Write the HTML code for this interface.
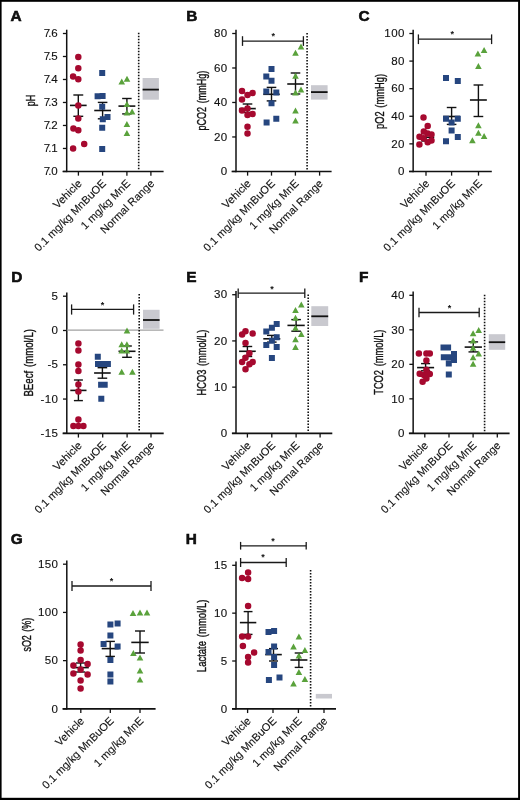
<!DOCTYPE html>
<html><head><meta charset="utf-8"><style>
html,body{margin:0;padding:0;background:#fff;}
body{width:520px;height:800px;overflow:hidden;position:relative;}
svg{position:absolute;left:0;top:0;will-change:transform;}
text{font-family:"Liberation Sans", sans-serif;fill:#111;}
</style></head><body>
<svg width="520" height="800" viewBox="0 0 520 800">
<rect x="0" y="0" width="520" height="800" fill="#fff"/>
<text x="10.40" y="20.65" font-size="15.4" font-weight="bold" stroke="#000" stroke-width="0.55" fill="#000">A</text>
<line x1="66.70" y1="29.70" x2="66.70" y2="172.15" stroke="#111" stroke-width="1.5" />
<line x1="62.90" y1="171.45" x2="66.70" y2="171.45" stroke="#111" stroke-width="1.3" />
<text transform="translate(57.70,175.15) scale(1.1,1)" font-size="10.5" text-anchor="end" stroke="#111" stroke-width="0.12"><tspan>7</tspan><tspan dx="-1.7">.</tspan><tspan dx="-0.2">0</tspan></text>
<line x1="62.90" y1="148.46" x2="66.70" y2="148.46" stroke="#111" stroke-width="1.3" />
<text transform="translate(57.70,152.16) scale(1.1,1)" font-size="10.5" text-anchor="end" stroke="#111" stroke-width="0.12"><tspan>7</tspan><tspan dx="-1.7">.</tspan><tspan dx="-0.2">1</tspan></text>
<line x1="62.90" y1="125.47" x2="66.70" y2="125.47" stroke="#111" stroke-width="1.3" />
<text transform="translate(57.70,129.17) scale(1.1,1)" font-size="10.5" text-anchor="end" stroke="#111" stroke-width="0.12"><tspan>7</tspan><tspan dx="-1.7">.</tspan><tspan dx="-0.2">2</tspan></text>
<line x1="62.90" y1="102.47" x2="66.70" y2="102.47" stroke="#111" stroke-width="1.3" />
<text transform="translate(57.70,106.17) scale(1.1,1)" font-size="10.5" text-anchor="end" stroke="#111" stroke-width="0.12"><tspan>7</tspan><tspan dx="-1.7">.</tspan><tspan dx="-0.2">3</tspan></text>
<line x1="62.90" y1="79.48" x2="66.70" y2="79.48" stroke="#111" stroke-width="1.3" />
<text transform="translate(57.70,83.18) scale(1.1,1)" font-size="10.5" text-anchor="end" stroke="#111" stroke-width="0.12"><tspan>7</tspan><tspan dx="-1.7">.</tspan><tspan dx="-0.2">4</tspan></text>
<line x1="62.90" y1="56.49" x2="66.70" y2="56.49" stroke="#111" stroke-width="1.3" />
<text transform="translate(57.70,60.19) scale(1.1,1)" font-size="10.5" text-anchor="end" stroke="#111" stroke-width="0.12"><tspan>7</tspan><tspan dx="-1.7">.</tspan><tspan dx="-0.2">5</tspan></text>
<line x1="62.90" y1="33.50" x2="66.70" y2="33.50" stroke="#111" stroke-width="1.3" />
<text transform="translate(57.70,37.20) scale(1.1,1)" font-size="10.5" text-anchor="end" stroke="#111" stroke-width="0.12"><tspan>7</tspan><tspan dx="-1.7">.</tspan><tspan dx="-0.2">6</tspan></text>
<line x1="62.60" y1="171.45" x2="163.60" y2="171.45" stroke="#111" stroke-width="1.55" />
<line x1="78.40" y1="171.45" x2="78.40" y2="175.65" stroke="#111" stroke-width="1.3" />
<text transform="translate(82.50,184.15) rotate(-45)" font-size="11.0" text-anchor="end" stroke="#111" stroke-width="0.12">Vehicle</text>
<line x1="102.60" y1="171.45" x2="102.60" y2="175.65" stroke="#111" stroke-width="1.3" />
<text transform="translate(106.70,184.15) rotate(-45)" font-size="11.0" text-anchor="end" stroke="#111" stroke-width="0.12">0.1 mg/kg MnBuOE</text>
<line x1="126.90" y1="171.45" x2="126.90" y2="175.65" stroke="#111" stroke-width="1.3" />
<text transform="translate(131.00,184.15) rotate(-45)" font-size="11.0" text-anchor="end" stroke="#111" stroke-width="0.12">1 mg/kg MnE</text>
<line x1="150.90" y1="171.45" x2="150.90" y2="175.65" stroke="#111" stroke-width="1.3" />
<text transform="translate(155.00,184.15) rotate(-45)" font-size="11.0" text-anchor="end" stroke="#111" stroke-width="0.12">Normal Range</text>
<line x1="138.70" y1="32.70" x2="138.70" y2="170.00" stroke="#111" stroke-width="1.6" stroke-dasharray="1.5 1.5"/>
<rect x="142.60" y="78.00" width="16.30" height="21.70" fill="#c9c9cf"/>
<line x1="142.60" y1="89.60" x2="158.90" y2="89.60" stroke="#111" stroke-width="1.8" />
<text transform="translate(35.00,100.50) rotate(-90)" font-size="12.5" text-anchor="middle" textLength="11.5" lengthAdjust="spacingAndGlyphs" word-spacing="1.5" stroke="#111" stroke-width="0.38">pH</text>
<line x1="78.30" y1="95.00" x2="78.30" y2="116.30" stroke="#111" stroke-width="1.4"/>
<line x1="73.35" y1="95.00" x2="83.25" y2="95.00" stroke="#111" stroke-width="1.4"/>
<line x1="73.35" y1="116.30" x2="83.25" y2="116.30" stroke="#111" stroke-width="1.4"/>
<line x1="69.95" y1="105.40" x2="86.65" y2="105.40" stroke="#111" stroke-width="1.6"/>
<line x1="102.60" y1="102.40" x2="102.60" y2="118.80" stroke="#111" stroke-width="1.4"/>
<line x1="97.80" y1="102.40" x2="107.40" y2="102.40" stroke="#111" stroke-width="1.4"/>
<line x1="97.80" y1="118.80" x2="107.40" y2="118.80" stroke="#111" stroke-width="1.4"/>
<line x1="94.25" y1="110.50" x2="110.95" y2="110.50" stroke="#111" stroke-width="1.6"/>
<line x1="126.90" y1="98.50" x2="126.90" y2="113.90" stroke="#111" stroke-width="1.4"/>
<line x1="122.15" y1="98.50" x2="131.65" y2="98.50" stroke="#111" stroke-width="1.4"/>
<line x1="122.15" y1="113.90" x2="131.65" y2="113.90" stroke="#111" stroke-width="1.4"/>
<line x1="118.45" y1="106.10" x2="135.35" y2="106.10" stroke="#111" stroke-width="1.6"/>
<path d="M75.05 57.00a3.25 3.25 0 1 0 6.5 0a3.25 3.25 0 1 0 -6.5 0ZM75.05 68.20a3.25 3.25 0 1 0 6.5 0a3.25 3.25 0 1 0 -6.5 0ZM69.85 76.50a3.25 3.25 0 1 0 6.5 0a3.25 3.25 0 1 0 -6.5 0ZM75.05 79.20a3.25 3.25 0 1 0 6.5 0a3.25 3.25 0 1 0 -6.5 0ZM75.05 105.40a3.25 3.25 0 1 0 6.5 0a3.25 3.25 0 1 0 -6.5 0ZM75.05 118.40a3.25 3.25 0 1 0 6.5 0a3.25 3.25 0 1 0 -6.5 0ZM70.15 128.40a3.25 3.25 0 1 0 6.5 0a3.25 3.25 0 1 0 -6.5 0ZM75.05 130.20a3.25 3.25 0 1 0 6.5 0a3.25 3.25 0 1 0 -6.5 0ZM80.95 143.90a3.25 3.25 0 1 0 6.5 0a3.25 3.25 0 1 0 -6.5 0ZM69.85 148.60a3.25 3.25 0 1 0 6.5 0a3.25 3.25 0 1 0 -6.5 0Z" fill="#a6092f"/>
<path d="M99.20 70.10h6.0v6.0h-6.0ZM94.60 93.30h6.0v6.0h-6.0ZM99.60 93.10h6.0v6.0h-6.0ZM99.20 103.70h6.0v6.0h-6.0ZM99.80 116.20h6.0v6.0h-6.0ZM104.50 114.10h6.0v6.0h-6.0ZM99.20 124.70h6.0v6.0h-6.0ZM99.20 146.00h6.0v6.0h-6.0Z" fill="#26467f"/>
<path d="M118.45 84.60L125.05 84.60L121.75 78.60ZM123.70 81.80L130.30 81.80L127.00 75.80ZM123.60 107.00L130.20 107.00L126.90 101.00ZM123.60 115.50L130.20 115.50L126.90 109.50ZM128.80 114.60L135.40 114.60L132.10 108.60ZM123.60 126.90L130.20 126.90L126.90 120.90ZM123.60 136.00L130.20 136.00L126.90 130.00Z" fill="#5aa23c"/>
<text x="186.20" y="20.65" font-size="15.4" font-weight="bold" stroke="#000" stroke-width="0.55" fill="#000">B</text>
<line x1="236.00" y1="29.70" x2="236.00" y2="172.15" stroke="#111" stroke-width="1.5" />
<line x1="232.20" y1="171.45" x2="236.00" y2="171.45" stroke="#111" stroke-width="1.3" />
<text transform="translate(227.60,175.15) scale(1.1,1)" font-size="10.5" text-anchor="end" letter-spacing="0.35" stroke="#111" stroke-width="0.12">0</text>
<line x1="232.20" y1="136.96" x2="236.00" y2="136.96" stroke="#111" stroke-width="1.3" />
<text transform="translate(227.60,140.66) scale(1.1,1)" font-size="10.5" text-anchor="end" letter-spacing="0.35" stroke="#111" stroke-width="0.12">20</text>
<line x1="232.20" y1="102.47" x2="236.00" y2="102.47" stroke="#111" stroke-width="1.3" />
<text transform="translate(227.60,106.17) scale(1.1,1)" font-size="10.5" text-anchor="end" letter-spacing="0.35" stroke="#111" stroke-width="0.12">40</text>
<line x1="232.20" y1="67.99" x2="236.00" y2="67.99" stroke="#111" stroke-width="1.3" />
<text transform="translate(227.60,71.69) scale(1.1,1)" font-size="10.5" text-anchor="end" letter-spacing="0.35" stroke="#111" stroke-width="0.12">60</text>
<line x1="232.20" y1="33.50" x2="236.00" y2="33.50" stroke="#111" stroke-width="1.3" />
<text transform="translate(227.60,37.20) scale(1.1,1)" font-size="10.5" text-anchor="end" letter-spacing="0.35" stroke="#111" stroke-width="0.12">80</text>
<line x1="231.60" y1="171.45" x2="331.60" y2="171.45" stroke="#111" stroke-width="1.55" />
<line x1="247.60" y1="171.45" x2="247.60" y2="175.65" stroke="#111" stroke-width="1.3" />
<text transform="translate(251.70,184.15) rotate(-45)" font-size="11.0" text-anchor="end" stroke="#111" stroke-width="0.12">Vehicle</text>
<line x1="271.50" y1="171.45" x2="271.50" y2="175.65" stroke="#111" stroke-width="1.3" />
<text transform="translate(275.60,184.15) rotate(-45)" font-size="11.0" text-anchor="end" stroke="#111" stroke-width="0.12">0.1 mg/kg MnBuOE</text>
<line x1="295.40" y1="171.45" x2="295.40" y2="175.65" stroke="#111" stroke-width="1.3" />
<text transform="translate(299.50,184.15) rotate(-45)" font-size="11.0" text-anchor="end" stroke="#111" stroke-width="0.12">1 mg/kg MnE</text>
<line x1="319.60" y1="171.45" x2="319.60" y2="175.65" stroke="#111" stroke-width="1.3" />
<text transform="translate(323.70,184.15) rotate(-45)" font-size="11.0" text-anchor="end" stroke="#111" stroke-width="0.12">Normal Range</text>
<line x1="307.10" y1="33.10" x2="307.10" y2="170.00" stroke="#111" stroke-width="1.6" stroke-dasharray="1.5 1.5"/>
<rect x="311.00" y="85.20" width="16.60" height="14.40" fill="#c9c9cf"/>
<line x1="311.00" y1="92.10" x2="327.60" y2="92.10" stroke="#111" stroke-width="1.8" />
<text transform="translate(206.20,100.60) rotate(-90)" font-size="12.5" text-anchor="middle" textLength="59.6" lengthAdjust="spacingAndGlyphs" word-spacing="1.5" stroke="#111" stroke-width="0.38">pCO2 (mmHg)</text>
<line x1="242.50" y1="41.10" x2="303.40" y2="41.10" stroke="#1a1a1a" stroke-width="1.3" />
<line x1="242.50" y1="36.20" x2="242.50" y2="45.90" stroke="#1a1a1a" stroke-width="1.3" />
<line x1="303.40" y1="36.20" x2="303.40" y2="45.90" stroke="#1a1a1a" stroke-width="1.3" />
<text x="273.20" y="38.80" font-size="9" font-weight="bold" text-anchor="middle" fill="#222">*</text>
<line x1="247.50" y1="104.00" x2="247.50" y2="112.40" stroke="#111" stroke-width="1.4"/>
<line x1="242.70" y1="104.00" x2="252.30" y2="104.00" stroke="#111" stroke-width="1.4"/>
<line x1="242.70" y1="112.40" x2="252.30" y2="112.40" stroke="#111" stroke-width="1.4"/>
<line x1="239.25" y1="108.60" x2="255.75" y2="108.60" stroke="#111" stroke-width="1.6"/>
<line x1="271.50" y1="87.40" x2="271.50" y2="100.90" stroke="#111" stroke-width="1.4"/>
<line x1="266.70" y1="87.40" x2="276.30" y2="87.40" stroke="#111" stroke-width="1.4"/>
<line x1="266.70" y1="100.90" x2="276.30" y2="100.90" stroke="#111" stroke-width="1.4"/>
<line x1="263.25" y1="94.30" x2="279.75" y2="94.30" stroke="#111" stroke-width="1.6"/>
<line x1="295.50" y1="73.00" x2="295.50" y2="94.00" stroke="#111" stroke-width="1.4"/>
<line x1="290.70" y1="73.00" x2="300.30" y2="73.00" stroke="#111" stroke-width="1.4"/>
<line x1="290.70" y1="94.00" x2="300.30" y2="94.00" stroke="#111" stroke-width="1.4"/>
<line x1="287.25" y1="84.00" x2="303.75" y2="84.00" stroke="#111" stroke-width="1.6"/>
<path d="M238.75 91.00a3.25 3.25 0 1 0 6.5 0a3.25 3.25 0 1 0 -6.5 0ZM244.25 95.10a3.25 3.25 0 1 0 6.5 0a3.25 3.25 0 1 0 -6.5 0ZM249.35 92.90a3.25 3.25 0 1 0 6.5 0a3.25 3.25 0 1 0 -6.5 0ZM238.75 99.50a3.25 3.25 0 1 0 6.5 0a3.25 3.25 0 1 0 -6.5 0ZM238.75 110.50a3.25 3.25 0 1 0 6.5 0a3.25 3.25 0 1 0 -6.5 0ZM244.25 108.40a3.25 3.25 0 1 0 6.5 0a3.25 3.25 0 1 0 -6.5 0ZM244.25 114.90a3.25 3.25 0 1 0 6.5 0a3.25 3.25 0 1 0 -6.5 0ZM249.35 113.90a3.25 3.25 0 1 0 6.5 0a3.25 3.25 0 1 0 -6.5 0ZM244.25 126.70a3.25 3.25 0 1 0 6.5 0a3.25 3.25 0 1 0 -6.5 0ZM244.25 133.60a3.25 3.25 0 1 0 6.5 0a3.25 3.25 0 1 0 -6.5 0Z" fill="#a6092f"/>
<path d="M268.50 66.00h6.0v6.0h-6.0ZM263.30 73.40h6.0v6.0h-6.0ZM268.50 77.70h6.0v6.0h-6.0ZM263.30 88.50h6.0v6.0h-6.0ZM273.30 89.60h6.0v6.0h-6.0ZM268.50 100.30h6.0v6.0h-6.0ZM273.30 115.70h6.0v6.0h-6.0ZM263.60 119.60h6.0v6.0h-6.0Z" fill="#26467f"/>
<path d="M297.70 49.60L304.30 49.60L301.00 43.60ZM292.20 55.70L298.80 55.70L295.50 49.70ZM292.20 78.80L298.80 78.80L295.50 72.80ZM297.70 92.60L304.30 92.60L301.00 86.60ZM292.20 95.60L298.80 95.60L295.50 89.60ZM292.20 113.50L298.80 113.50L295.50 107.50ZM292.20 123.40L298.80 123.40L295.50 117.40Z" fill="#5aa23c"/>
<text x="358.40" y="20.85" font-size="15.4" font-weight="bold" stroke="#000" stroke-width="0.55" fill="#000">C</text>
<line x1="413.15" y1="29.70" x2="413.15" y2="172.15" stroke="#111" stroke-width="1.5" />
<line x1="409.35" y1="171.45" x2="413.15" y2="171.45" stroke="#111" stroke-width="1.3" />
<text transform="translate(404.75,175.15) scale(1.1,1)" font-size="10.5" text-anchor="end" letter-spacing="0.35" stroke="#111" stroke-width="0.12">0</text>
<line x1="409.35" y1="143.86" x2="413.15" y2="143.86" stroke="#111" stroke-width="1.3" />
<text transform="translate(404.75,147.56) scale(1.1,1)" font-size="10.5" text-anchor="end" letter-spacing="0.35" stroke="#111" stroke-width="0.12">20</text>
<line x1="409.35" y1="116.27" x2="413.15" y2="116.27" stroke="#111" stroke-width="1.3" />
<text transform="translate(404.75,119.97) scale(1.1,1)" font-size="10.5" text-anchor="end" letter-spacing="0.35" stroke="#111" stroke-width="0.12">40</text>
<line x1="409.35" y1="88.68" x2="413.15" y2="88.68" stroke="#111" stroke-width="1.3" />
<text transform="translate(404.75,92.38) scale(1.1,1)" font-size="10.5" text-anchor="end" letter-spacing="0.35" stroke="#111" stroke-width="0.12">60</text>
<line x1="409.35" y1="61.09" x2="413.15" y2="61.09" stroke="#111" stroke-width="1.3" />
<text transform="translate(404.75,64.79) scale(1.1,1)" font-size="10.5" text-anchor="end" letter-spacing="0.35" stroke="#111" stroke-width="0.12">80</text>
<line x1="409.35" y1="33.50" x2="413.15" y2="33.50" stroke="#111" stroke-width="1.3" />
<text transform="translate(404.75,37.20) scale(1.1,1)" font-size="10.5" text-anchor="end" letter-spacing="0.35" stroke="#111" stroke-width="0.12">100</text>
<line x1="409.00" y1="171.45" x2="491.80" y2="171.45" stroke="#111" stroke-width="1.55" />
<line x1="426.00" y1="171.45" x2="426.00" y2="175.65" stroke="#111" stroke-width="1.3" />
<text transform="translate(430.10,184.15) rotate(-45)" font-size="11.0" text-anchor="end" stroke="#111" stroke-width="0.12">Vehicle</text>
<line x1="451.60" y1="171.45" x2="451.60" y2="175.65" stroke="#111" stroke-width="1.3" />
<text transform="translate(455.70,184.15) rotate(-45)" font-size="11.0" text-anchor="end" stroke="#111" stroke-width="0.12">0.1 mg/kg MnBuOE</text>
<line x1="478.50" y1="171.45" x2="478.50" y2="175.65" stroke="#111" stroke-width="1.3" />
<text transform="translate(482.60,184.15) rotate(-45)" font-size="11.0" text-anchor="end" stroke="#111" stroke-width="0.12">1 mg/kg MnE</text>
<text transform="translate(384.00,101.50) rotate(-90)" font-size="12.5" text-anchor="middle" textLength="55" lengthAdjust="spacingAndGlyphs" word-spacing="1.5" stroke="#111" stroke-width="0.38">pO2 (mmHg)</text>
<line x1="418.40" y1="39.10" x2="491.60" y2="39.10" stroke="#1a1a1a" stroke-width="1.3" />
<line x1="418.40" y1="34.40" x2="418.40" y2="44.10" stroke="#1a1a1a" stroke-width="1.3" />
<line x1="491.60" y1="34.40" x2="491.60" y2="44.10" stroke="#1a1a1a" stroke-width="1.3" />
<text x="452.20" y="37.30" font-size="9" font-weight="bold" text-anchor="middle" fill="#222">*</text>
<line x1="426.00" y1="133.50" x2="426.00" y2="141.00" stroke="#111" stroke-width="1.4"/>
<line x1="421.20" y1="133.50" x2="430.80" y2="133.50" stroke="#111" stroke-width="1.4"/>
<line x1="421.20" y1="141.00" x2="430.80" y2="141.00" stroke="#111" stroke-width="1.4"/>
<line x1="417.75" y1="137.30" x2="434.25" y2="137.30" stroke="#111" stroke-width="1.6"/>
<line x1="451.60" y1="107.50" x2="451.60" y2="124.40" stroke="#111" stroke-width="1.4"/>
<line x1="446.80" y1="107.50" x2="456.40" y2="107.50" stroke="#111" stroke-width="1.4"/>
<line x1="446.80" y1="124.40" x2="456.40" y2="124.40" stroke="#111" stroke-width="1.4"/>
<line x1="443.20" y1="116.50" x2="460.00" y2="116.50" stroke="#111" stroke-width="1.6"/>
<line x1="478.40" y1="85.00" x2="478.40" y2="116.50" stroke="#111" stroke-width="1.4"/>
<line x1="473.55" y1="85.00" x2="483.25" y2="85.00" stroke="#111" stroke-width="1.4"/>
<line x1="473.55" y1="116.50" x2="483.25" y2="116.50" stroke="#111" stroke-width="1.4"/>
<line x1="469.95" y1="100.00" x2="486.85" y2="100.00" stroke="#111" stroke-width="1.6"/>
<path d="M420.25 117.40a3.25 3.25 0 1 0 6.5 0a3.25 3.25 0 1 0 -6.5 0ZM424.45 125.90a3.25 3.25 0 1 0 6.5 0a3.25 3.25 0 1 0 -6.5 0ZM420.55 131.60a3.25 3.25 0 1 0 6.5 0a3.25 3.25 0 1 0 -6.5 0ZM424.35 133.40a3.25 3.25 0 1 0 6.5 0a3.25 3.25 0 1 0 -6.5 0ZM428.25 134.60a3.25 3.25 0 1 0 6.5 0a3.25 3.25 0 1 0 -6.5 0ZM416.25 136.80a3.25 3.25 0 1 0 6.5 0a3.25 3.25 0 1 0 -6.5 0ZM420.25 138.30a3.25 3.25 0 1 0 6.5 0a3.25 3.25 0 1 0 -6.5 0ZM424.45 142.30a3.25 3.25 0 1 0 6.5 0a3.25 3.25 0 1 0 -6.5 0ZM428.25 140.60a3.25 3.25 0 1 0 6.5 0a3.25 3.25 0 1 0 -6.5 0ZM416.15 144.60a3.25 3.25 0 1 0 6.5 0a3.25 3.25 0 1 0 -6.5 0Z" fill="#a6092f"/>
<path d="M443.00 74.90h6.0v6.0h-6.0ZM454.80 77.90h6.0v6.0h-6.0ZM443.00 115.75h6.0v6.0h-6.0ZM454.80 115.75h6.0v6.0h-6.0ZM448.60 119.50h6.0v6.0h-6.0ZM448.60 127.40h6.0v6.0h-6.0ZM454.80 134.10h6.0v6.0h-6.0ZM443.00 138.25h6.0v6.0h-6.0Z" fill="#26467f"/>
<path d="M480.80 53.00L487.40 53.00L484.10 47.00ZM474.60 56.50L481.20 56.50L477.90 50.50ZM475.10 68.90L481.70 68.90L478.40 62.90ZM475.10 128.30L481.70 128.30L478.40 122.30ZM475.10 135.80L481.70 135.80L478.40 129.80ZM480.80 139.00L487.40 139.00L484.10 133.00ZM469.10 143.30L475.70 143.30L472.40 137.30Z" fill="#5aa23c"/>
<text x="11.20" y="282.35" font-size="15.4" font-weight="bold" stroke="#000" stroke-width="0.55" fill="#000">D</text>
<line x1="66.80" y1="292.40" x2="66.80" y2="434.05" stroke="#111" stroke-width="1.5" />
<line x1="63.00" y1="433.35" x2="66.80" y2="433.35" stroke="#111" stroke-width="1.3" />
<text transform="translate(58.40,437.05) scale(1.1,1)" font-size="10.5" text-anchor="end" letter-spacing="0.35" stroke="#111" stroke-width="0.12">-15</text>
<line x1="63.00" y1="399.06" x2="66.80" y2="399.06" stroke="#111" stroke-width="1.3" />
<text transform="translate(58.40,402.76) scale(1.1,1)" font-size="10.5" text-anchor="end" letter-spacing="0.35" stroke="#111" stroke-width="0.12">-10</text>
<line x1="63.00" y1="364.77" x2="66.80" y2="364.77" stroke="#111" stroke-width="1.3" />
<text transform="translate(58.40,368.47) scale(1.1,1)" font-size="10.5" text-anchor="end" letter-spacing="0.35" stroke="#111" stroke-width="0.12">-5</text>
<line x1="63.00" y1="330.49" x2="66.80" y2="330.49" stroke="#111" stroke-width="1.3" />
<text transform="translate(58.40,334.19) scale(1.1,1)" font-size="10.5" text-anchor="end" letter-spacing="0.35" stroke="#111" stroke-width="0.12">0</text>
<line x1="63.00" y1="296.20" x2="66.80" y2="296.20" stroke="#111" stroke-width="1.3" />
<text transform="translate(58.40,299.90) scale(1.1,1)" font-size="10.5" text-anchor="end" letter-spacing="0.35" stroke="#111" stroke-width="0.12">5</text>
<line x1="62.60" y1="433.35" x2="163.70" y2="433.35" stroke="#111" stroke-width="1.55" />
<line x1="78.40" y1="433.35" x2="78.40" y2="437.55" stroke="#111" stroke-width="1.3" />
<text transform="translate(82.50,446.05) rotate(-45)" font-size="11.0" text-anchor="end" stroke="#111" stroke-width="0.12">Vehicle</text>
<line x1="102.70" y1="433.35" x2="102.70" y2="437.55" stroke="#111" stroke-width="1.3" />
<text transform="translate(106.80,446.05) rotate(-45)" font-size="11.0" text-anchor="end" stroke="#111" stroke-width="0.12">0.1 mg/kg MnBuOE</text>
<line x1="127.10" y1="433.35" x2="127.10" y2="437.55" stroke="#111" stroke-width="1.3" />
<text transform="translate(131.20,446.05) rotate(-45)" font-size="11.0" text-anchor="end" stroke="#111" stroke-width="0.12">1 mg/kg MnE</text>
<line x1="151.00" y1="433.35" x2="151.00" y2="437.55" stroke="#111" stroke-width="1.3" />
<text transform="translate(155.10,446.05) rotate(-45)" font-size="11.0" text-anchor="end" stroke="#111" stroke-width="0.12">Normal Range</text>
<line x1="66.80" y1="330.10" x2="163.50" y2="330.10" stroke="#a0a0a0" stroke-width="1.3" />
<line x1="139.20" y1="294.00" x2="139.20" y2="432.00" stroke="#111" stroke-width="1.6" stroke-dasharray="1.5 1.5"/>
<rect x="143.00" y="309.80" width="16.60" height="19.00" fill="#c9c9cf"/>
<line x1="143.00" y1="320.00" x2="159.60" y2="320.00" stroke="#111" stroke-width="1.8" />
<text transform="translate(33.00,362.80) rotate(-90)" font-size="12.5" text-anchor="middle" textLength="67.5" lengthAdjust="spacingAndGlyphs" word-spacing="1.5" stroke="#111" stroke-width="0.38">BEecf (mmol/L)</text>
<line x1="71.60" y1="309.40" x2="133.60" y2="309.40" stroke="#1a1a1a" stroke-width="1.3" />
<line x1="71.60" y1="304.40" x2="71.60" y2="314.60" stroke="#1a1a1a" stroke-width="1.3" />
<line x1="133.60" y1="304.40" x2="133.60" y2="314.60" stroke="#1a1a1a" stroke-width="1.3" />
<text x="102.40" y="307.90" font-size="9" font-weight="bold" text-anchor="middle" fill="#222">*</text>
<line x1="78.40" y1="380.00" x2="78.40" y2="400.60" stroke="#111" stroke-width="1.4"/>
<line x1="73.90" y1="380.00" x2="82.90" y2="380.00" stroke="#111" stroke-width="1.4"/>
<line x1="73.90" y1="400.60" x2="82.90" y2="400.60" stroke="#111" stroke-width="1.4"/>
<line x1="70.30" y1="390.40" x2="86.50" y2="390.40" stroke="#111" stroke-width="1.6"/>
<line x1="102.40" y1="367.70" x2="102.40" y2="378.20" stroke="#111" stroke-width="1.4"/>
<line x1="97.60" y1="367.70" x2="107.20" y2="367.70" stroke="#111" stroke-width="1.4"/>
<line x1="97.60" y1="378.20" x2="107.20" y2="378.20" stroke="#111" stroke-width="1.4"/>
<line x1="94.10" y1="373.00" x2="110.70" y2="373.00" stroke="#111" stroke-width="1.6"/>
<line x1="127.00" y1="346.00" x2="127.00" y2="357.30" stroke="#111" stroke-width="1.4"/>
<line x1="122.15" y1="346.00" x2="131.85" y2="346.00" stroke="#111" stroke-width="1.4"/>
<line x1="122.15" y1="357.30" x2="131.85" y2="357.30" stroke="#111" stroke-width="1.4"/>
<line x1="118.50" y1="351.30" x2="135.50" y2="351.30" stroke="#111" stroke-width="1.6"/>
<path d="M75.15 343.40a3.25 3.25 0 1 0 6.5 0a3.25 3.25 0 1 0 -6.5 0ZM75.15 350.40a3.25 3.25 0 1 0 6.5 0a3.25 3.25 0 1 0 -6.5 0ZM75.15 364.40a3.25 3.25 0 1 0 6.5 0a3.25 3.25 0 1 0 -6.5 0ZM75.15 371.00a3.25 3.25 0 1 0 6.5 0a3.25 3.25 0 1 0 -6.5 0ZM75.15 384.40a3.25 3.25 0 1 0 6.5 0a3.25 3.25 0 1 0 -6.5 0ZM75.15 391.40a3.25 3.25 0 1 0 6.5 0a3.25 3.25 0 1 0 -6.5 0ZM75.15 419.50a3.25 3.25 0 1 0 6.5 0a3.25 3.25 0 1 0 -6.5 0ZM70.15 426.00a3.25 3.25 0 1 0 6.5 0a3.25 3.25 0 1 0 -6.5 0ZM75.15 426.00a3.25 3.25 0 1 0 6.5 0a3.25 3.25 0 1 0 -6.5 0ZM80.15 426.00a3.25 3.25 0 1 0 6.5 0a3.25 3.25 0 1 0 -6.5 0Z" fill="#a6092f"/>
<path d="M94.80 353.80h6.0v6.0h-6.0ZM95.00 361.00h6.0v6.0h-6.0ZM100.00 361.00h6.0v6.0h-6.0ZM104.90 361.00h6.0v6.0h-6.0ZM98.10 381.70h6.0v6.0h-6.0ZM101.70 381.70h6.0v6.0h-6.0ZM98.30 395.70h6.0v6.0h-6.0Z" fill="#26467f"/>
<path d="M123.70 333.50L130.30 333.50L127.00 327.50ZM118.40 347.30L125.00 347.30L121.70 341.30ZM123.60 347.30L130.20 347.30L126.90 341.30ZM118.40 353.60L125.00 353.60L121.70 347.60ZM123.60 353.60L130.20 353.60L126.90 347.60ZM118.40 374.70L125.00 374.70L121.70 368.70ZM129.10 374.70L135.70 374.70L132.40 368.70Z" fill="#5aa23c"/>
<text x="186.20" y="282.35" font-size="15.4" font-weight="bold" stroke="#000" stroke-width="0.55" fill="#000">E</text>
<line x1="236.00" y1="290.90" x2="236.00" y2="434.05" stroke="#111" stroke-width="1.5" />
<line x1="232.20" y1="433.35" x2="236.00" y2="433.35" stroke="#111" stroke-width="1.3" />
<text transform="translate(227.60,437.05) scale(1.1,1)" font-size="10.5" text-anchor="end" letter-spacing="0.35" stroke="#111" stroke-width="0.12">0</text>
<line x1="232.20" y1="387.13" x2="236.00" y2="387.13" stroke="#111" stroke-width="1.3" />
<text transform="translate(227.60,390.83) scale(1.1,1)" font-size="10.5" text-anchor="end" letter-spacing="0.35" stroke="#111" stroke-width="0.12">10</text>
<line x1="232.20" y1="340.92" x2="236.00" y2="340.92" stroke="#111" stroke-width="1.3" />
<text transform="translate(227.60,344.62) scale(1.1,1)" font-size="10.5" text-anchor="end" letter-spacing="0.35" stroke="#111" stroke-width="0.12">20</text>
<line x1="232.20" y1="294.70" x2="236.00" y2="294.70" stroke="#111" stroke-width="1.3" />
<text transform="translate(227.60,298.40) scale(1.1,1)" font-size="10.5" text-anchor="end" letter-spacing="0.35" stroke="#111" stroke-width="0.12">30</text>
<line x1="231.90" y1="433.35" x2="332.30" y2="433.35" stroke="#111" stroke-width="1.55" />
<line x1="247.40" y1="433.35" x2="247.40" y2="437.55" stroke="#111" stroke-width="1.3" />
<text transform="translate(251.50,446.05) rotate(-45)" font-size="11.0" text-anchor="end" stroke="#111" stroke-width="0.12">Vehicle</text>
<line x1="271.80" y1="433.35" x2="271.80" y2="437.55" stroke="#111" stroke-width="1.3" />
<text transform="translate(275.90,446.05) rotate(-45)" font-size="11.0" text-anchor="end" stroke="#111" stroke-width="0.12">0.1 mg/kg MnBuOE</text>
<line x1="296.10" y1="433.35" x2="296.10" y2="437.55" stroke="#111" stroke-width="1.3" />
<text transform="translate(300.20,446.05) rotate(-45)" font-size="11.0" text-anchor="end" stroke="#111" stroke-width="0.12">1 mg/kg MnE</text>
<line x1="320.10" y1="433.35" x2="320.10" y2="437.55" stroke="#111" stroke-width="1.3" />
<text transform="translate(324.20,446.05) rotate(-45)" font-size="11.0" text-anchor="end" stroke="#111" stroke-width="0.12">Normal Range</text>
<line x1="308.20" y1="294.60" x2="308.20" y2="432.00" stroke="#111" stroke-width="1.6" stroke-dasharray="1.5 1.5"/>
<rect x="311.30" y="306.20" width="16.90" height="19.80" fill="#c9c9cf"/>
<line x1="311.30" y1="316.30" x2="328.20" y2="316.30" stroke="#111" stroke-width="1.8" />
<text transform="translate(205.50,362.50) rotate(-90)" font-size="12.5" text-anchor="middle" textLength="65.8" lengthAdjust="spacingAndGlyphs" word-spacing="1.5" stroke="#111" stroke-width="0.38">HCO3 (mmol/L)</text>
<line x1="238.20" y1="293.10" x2="304.80" y2="293.10" stroke="#1a1a1a" stroke-width="1.3" />
<line x1="238.20" y1="288.50" x2="238.20" y2="298.00" stroke="#1a1a1a" stroke-width="1.3" />
<line x1="304.80" y1="288.50" x2="304.80" y2="298.00" stroke="#1a1a1a" stroke-width="1.3" />
<text x="271.90" y="291.80" font-size="9" font-weight="bold" text-anchor="middle" fill="#222">*</text>
<line x1="247.40" y1="346.50" x2="247.40" y2="356.50" stroke="#111" stroke-width="1.4"/>
<line x1="242.60" y1="346.50" x2="252.20" y2="346.50" stroke="#111" stroke-width="1.4"/>
<line x1="242.60" y1="356.50" x2="252.20" y2="356.50" stroke="#111" stroke-width="1.4"/>
<line x1="239.05" y1="351.30" x2="255.75" y2="351.30" stroke="#111" stroke-width="1.6"/>
<line x1="271.80" y1="335.40" x2="271.80" y2="342.10" stroke="#111" stroke-width="1.4"/>
<line x1="267.00" y1="335.40" x2="276.60" y2="335.40" stroke="#111" stroke-width="1.4"/>
<line x1="267.00" y1="342.10" x2="276.60" y2="342.10" stroke="#111" stroke-width="1.4"/>
<line x1="263.30" y1="338.80" x2="280.30" y2="338.80" stroke="#111" stroke-width="1.6"/>
<line x1="296.10" y1="319.60" x2="296.10" y2="331.20" stroke="#111" stroke-width="1.4"/>
<line x1="291.30" y1="319.60" x2="300.90" y2="319.60" stroke="#111" stroke-width="1.4"/>
<line x1="291.30" y1="331.20" x2="300.90" y2="331.20" stroke="#111" stroke-width="1.4"/>
<line x1="287.45" y1="325.40" x2="304.75" y2="325.40" stroke="#111" stroke-width="1.6"/>
<path d="M242.25 331.20a3.25 3.25 0 1 0 6.5 0a3.25 3.25 0 1 0 -6.5 0ZM238.85 334.60a3.25 3.25 0 1 0 6.5 0a3.25 3.25 0 1 0 -6.5 0ZM249.45 333.50a3.25 3.25 0 1 0 6.5 0a3.25 3.25 0 1 0 -6.5 0ZM242.25 343.10a3.25 3.25 0 1 0 6.5 0a3.25 3.25 0 1 0 -6.5 0ZM246.15 353.30a3.25 3.25 0 1 0 6.5 0a3.25 3.25 0 1 0 -6.5 0ZM242.25 357.70a3.25 3.25 0 1 0 6.5 0a3.25 3.25 0 1 0 -6.5 0ZM238.85 361.90a3.25 3.25 0 1 0 6.5 0a3.25 3.25 0 1 0 -6.5 0ZM249.45 361.90a3.25 3.25 0 1 0 6.5 0a3.25 3.25 0 1 0 -6.5 0ZM246.15 364.20a3.25 3.25 0 1 0 6.5 0a3.25 3.25 0 1 0 -6.5 0ZM242.25 369.20a3.25 3.25 0 1 0 6.5 0a3.25 3.25 0 1 0 -6.5 0Z" fill="#a6092f"/>
<path d="M273.70 321.00h6.0v6.0h-6.0ZM268.90 324.70h6.0v6.0h-6.0ZM263.30 328.50h6.0v6.0h-6.0ZM273.70 334.30h6.0v6.0h-6.0ZM268.90 337.80h6.0v6.0h-6.0ZM263.30 342.00h6.0v6.0h-6.0ZM273.70 343.90h6.0v6.0h-6.0ZM268.90 355.10h6.0v6.0h-6.0Z" fill="#26467f"/>
<path d="M298.00 307.60L304.60 307.60L301.30 301.60ZM292.20 313.00L298.80 313.00L295.50 307.00ZM292.20 320.70L298.80 320.70L295.50 314.70ZM292.20 330.70L298.80 330.70L295.50 324.70ZM298.00 337.00L304.60 337.00L301.30 331.00ZM292.20 342.20L298.80 342.20L295.50 336.20ZM292.20 349.90L298.80 349.90L295.50 343.90Z" fill="#5aa23c"/>
<text x="359.00" y="282.35" font-size="15.4" font-weight="bold" stroke="#000" stroke-width="0.55" fill="#000">F</text>
<line x1="413.15" y1="291.50" x2="413.15" y2="434.05" stroke="#111" stroke-width="1.5" />
<line x1="409.35" y1="433.35" x2="413.15" y2="433.35" stroke="#111" stroke-width="1.3" />
<text transform="translate(404.75,437.05) scale(1.1,1)" font-size="10.5" text-anchor="end" letter-spacing="0.35" stroke="#111" stroke-width="0.12">0</text>
<line x1="409.35" y1="398.84" x2="413.15" y2="398.84" stroke="#111" stroke-width="1.3" />
<text transform="translate(404.75,402.54) scale(1.1,1)" font-size="10.5" text-anchor="end" letter-spacing="0.35" stroke="#111" stroke-width="0.12">10</text>
<line x1="409.35" y1="364.33" x2="413.15" y2="364.33" stroke="#111" stroke-width="1.3" />
<text transform="translate(404.75,368.03) scale(1.1,1)" font-size="10.5" text-anchor="end" letter-spacing="0.35" stroke="#111" stroke-width="0.12">20</text>
<line x1="409.35" y1="329.81" x2="413.15" y2="329.81" stroke="#111" stroke-width="1.3" />
<text transform="translate(404.75,333.51) scale(1.1,1)" font-size="10.5" text-anchor="end" letter-spacing="0.35" stroke="#111" stroke-width="0.12">30</text>
<line x1="409.35" y1="295.30" x2="413.15" y2="295.30" stroke="#111" stroke-width="1.3" />
<text transform="translate(404.75,299.00) scale(1.1,1)" font-size="10.5" text-anchor="end" letter-spacing="0.35" stroke="#111" stroke-width="0.12">40</text>
<line x1="408.90" y1="433.35" x2="509.60" y2="433.35" stroke="#111" stroke-width="1.55" />
<line x1="424.80" y1="433.35" x2="424.80" y2="437.55" stroke="#111" stroke-width="1.3" />
<text transform="translate(428.90,446.05) rotate(-45)" font-size="11.0" text-anchor="end" stroke="#111" stroke-width="0.12">Vehicle</text>
<line x1="449.00" y1="433.35" x2="449.00" y2="437.55" stroke="#111" stroke-width="1.3" />
<text transform="translate(453.10,446.05) rotate(-45)" font-size="11.0" text-anchor="end" stroke="#111" stroke-width="0.12">0.1 mg/kg MnBuOE</text>
<line x1="473.10" y1="433.35" x2="473.10" y2="437.55" stroke="#111" stroke-width="1.3" />
<text transform="translate(477.20,446.05) rotate(-45)" font-size="11.0" text-anchor="end" stroke="#111" stroke-width="0.12">1 mg/kg MnE</text>
<line x1="497.30" y1="433.35" x2="497.30" y2="437.55" stroke="#111" stroke-width="1.3" />
<text transform="translate(501.40,446.05) rotate(-45)" font-size="11.0" text-anchor="end" stroke="#111" stroke-width="0.12">Normal Range</text>
<line x1="484.60" y1="294.80" x2="484.60" y2="432.00" stroke="#111" stroke-width="1.6" stroke-dasharray="1.5 1.5"/>
<rect x="488.80" y="334.20" width="16.40" height="15.60" fill="#c9c9cf"/>
<line x1="488.80" y1="342.20" x2="505.20" y2="342.20" stroke="#111" stroke-width="1.8" />
<text transform="translate(383.00,362.20) rotate(-90)" font-size="12.5" text-anchor="middle" textLength="65.2" lengthAdjust="spacingAndGlyphs" word-spacing="1.5" stroke="#111" stroke-width="0.38">TCO2 (mmol/L)</text>
<line x1="419.00" y1="312.50" x2="479.20" y2="312.50" stroke="#1a1a1a" stroke-width="1.3" />
<line x1="419.00" y1="307.70" x2="419.00" y2="317.30" stroke="#1a1a1a" stroke-width="1.3" />
<line x1="479.20" y1="307.70" x2="479.20" y2="317.30" stroke="#1a1a1a" stroke-width="1.3" />
<text x="449.40" y="310.80" font-size="9" font-weight="bold" text-anchor="middle" fill="#222">*</text>
<line x1="425.60" y1="363.60" x2="425.60" y2="370.80" stroke="#111" stroke-width="1.4"/>
<line x1="421.05" y1="363.60" x2="430.15" y2="363.60" stroke="#111" stroke-width="1.4"/>
<line x1="421.05" y1="370.80" x2="430.15" y2="370.80" stroke="#111" stroke-width="1.4"/>
<line x1="417.10" y1="367.60" x2="434.10" y2="367.60" stroke="#111" stroke-width="1.6"/>
<line x1="473.30" y1="341.90" x2="473.30" y2="351.90" stroke="#111" stroke-width="1.4"/>
<line x1="468.50" y1="341.90" x2="478.10" y2="341.90" stroke="#111" stroke-width="1.4"/>
<line x1="468.50" y1="351.90" x2="478.10" y2="351.90" stroke="#111" stroke-width="1.4"/>
<line x1="464.65" y1="347.10" x2="481.95" y2="347.10" stroke="#111" stroke-width="1.6"/>
<path d="M415.65 353.50a3.25 3.25 0 1 0 6.5 0a3.25 3.25 0 1 0 -6.5 0ZM423.15 353.50a3.25 3.25 0 1 0 6.5 0a3.25 3.25 0 1 0 -6.5 0ZM426.55 353.50a3.25 3.25 0 1 0 6.5 0a3.25 3.25 0 1 0 -6.5 0ZM423.15 360.40a3.25 3.25 0 1 0 6.5 0a3.25 3.25 0 1 0 -6.5 0ZM423.15 369.80a3.25 3.25 0 1 0 6.5 0a3.25 3.25 0 1 0 -6.5 0ZM416.45 373.70a3.25 3.25 0 1 0 6.5 0a3.25 3.25 0 1 0 -6.5 0ZM426.55 374.10a3.25 3.25 0 1 0 6.5 0a3.25 3.25 0 1 0 -6.5 0ZM423.15 378.50a3.25 3.25 0 1 0 6.5 0a3.25 3.25 0 1 0 -6.5 0ZM419.35 381.80a3.25 3.25 0 1 0 6.5 0a3.25 3.25 0 1 0 -6.5 0ZM420.75 375.00a3.25 3.25 0 1 0 6.5 0a3.25 3.25 0 1 0 -6.5 0Z" fill="#a6092f"/>
<path d="M440.50 344.40h6.0v6.0h-6.0ZM445.10 344.40h6.0v6.0h-6.0ZM440.80 354.20h6.0v6.0h-6.0ZM446.20 354.20h6.0v6.0h-6.0ZM451.00 351.00h6.0v6.0h-6.0ZM451.00 357.00h6.0v6.0h-6.0ZM445.80 360.60h6.0v6.0h-6.0ZM445.80 371.60h6.0v6.0h-6.0Z" fill="#26467f"/>
<path d="M475.40 333.00L482.00 333.00L478.70 327.00ZM469.80 336.30L476.40 336.30L473.10 330.30ZM469.80 343.40L476.40 343.40L473.10 337.40ZM469.80 350.70L476.40 350.70L473.10 344.70ZM475.40 356.50L482.00 356.50L478.70 350.50ZM469.80 360.30L476.40 360.30L473.10 354.30ZM469.80 366.70L476.40 366.70L473.10 360.70Z" fill="#5aa23c"/>
<text x="10.80" y="544.25" font-size="15.4" font-weight="bold" stroke="#000" stroke-width="0.55" fill="#000">G</text>
<line x1="66.80" y1="560.40" x2="66.80" y2="709.55" stroke="#111" stroke-width="1.5" />
<line x1="63.00" y1="708.85" x2="66.80" y2="708.85" stroke="#111" stroke-width="1.3" />
<text transform="translate(58.40,712.55) scale(1.1,1)" font-size="10.5" text-anchor="end" letter-spacing="0.35" stroke="#111" stroke-width="0.12">0</text>
<line x1="63.00" y1="660.63" x2="66.80" y2="660.63" stroke="#111" stroke-width="1.3" />
<text transform="translate(58.40,664.33) scale(1.1,1)" font-size="10.5" text-anchor="end" letter-spacing="0.35" stroke="#111" stroke-width="0.12">50</text>
<line x1="63.00" y1="612.42" x2="66.80" y2="612.42" stroke="#111" stroke-width="1.3" />
<text transform="translate(58.40,616.12) scale(1.1,1)" font-size="10.5" text-anchor="end" letter-spacing="0.35" stroke="#111" stroke-width="0.12">100</text>
<line x1="63.00" y1="564.20" x2="66.80" y2="564.20" stroke="#111" stroke-width="1.3" />
<text transform="translate(58.40,567.90) scale(1.1,1)" font-size="10.5" text-anchor="end" letter-spacing="0.35" stroke="#111" stroke-width="0.12">150</text>
<line x1="62.50" y1="708.85" x2="155.60" y2="708.85" stroke="#111" stroke-width="1.55" />
<line x1="80.80" y1="708.85" x2="80.80" y2="713.05" stroke="#111" stroke-width="1.3" />
<text transform="translate(84.90,721.55) rotate(-45)" font-size="11.0" text-anchor="end" stroke="#111" stroke-width="0.12">Vehicle</text>
<line x1="110.30" y1="708.85" x2="110.30" y2="713.05" stroke="#111" stroke-width="1.3" />
<text transform="translate(114.40,721.55) rotate(-45)" font-size="11.0" text-anchor="end" stroke="#111" stroke-width="0.12">0.1 mg/kg MnBuOE</text>
<line x1="140.00" y1="708.85" x2="140.00" y2="713.05" stroke="#111" stroke-width="1.3" />
<text transform="translate(144.10,721.55) rotate(-45)" font-size="11.0" text-anchor="end" stroke="#111" stroke-width="0.12">1 mg/kg MnE</text>
<text transform="translate(30.50,634.70) rotate(-90)" font-size="12.5" text-anchor="middle" textLength="33.7" lengthAdjust="spacingAndGlyphs" word-spacing="1.5" stroke="#111" stroke-width="0.38">sO2 (%)</text>
<line x1="72.00" y1="586.00" x2="151.00" y2="586.00" stroke="#1a1a1a" stroke-width="1.3" />
<line x1="72.00" y1="581.00" x2="72.00" y2="591.00" stroke="#1a1a1a" stroke-width="1.3" />
<line x1="151.00" y1="581.00" x2="151.00" y2="591.00" stroke="#1a1a1a" stroke-width="1.3" />
<text x="111.60" y="583.90" font-size="9" font-weight="bold" text-anchor="middle" fill="#222">*</text>
<line x1="80.60" y1="663.00" x2="80.60" y2="672.00" stroke="#111" stroke-width="1.4"/>
<line x1="75.90" y1="663.00" x2="85.30" y2="663.00" stroke="#111" stroke-width="1.4"/>
<line x1="75.90" y1="672.00" x2="85.30" y2="672.00" stroke="#111" stroke-width="1.4"/>
<line x1="72.40" y1="667.60" x2="88.80" y2="667.60" stroke="#111" stroke-width="1.6"/>
<line x1="110.20" y1="641.40" x2="110.20" y2="656.40" stroke="#111" stroke-width="1.4"/>
<line x1="105.50" y1="641.40" x2="114.90" y2="641.40" stroke="#111" stroke-width="1.4"/>
<line x1="105.50" y1="656.40" x2="114.90" y2="656.40" stroke="#111" stroke-width="1.4"/>
<line x1="101.70" y1="648.60" x2="118.70" y2="648.60" stroke="#111" stroke-width="1.6"/>
<line x1="140.00" y1="631.00" x2="140.00" y2="653.00" stroke="#111" stroke-width="1.4"/>
<line x1="135.00" y1="631.00" x2="145.00" y2="631.00" stroke="#111" stroke-width="1.4"/>
<line x1="135.00" y1="653.00" x2="145.00" y2="653.00" stroke="#111" stroke-width="1.4"/>
<line x1="131.30" y1="642.40" x2="148.70" y2="642.40" stroke="#111" stroke-width="1.6"/>
<path d="M77.35 644.40a3.25 3.25 0 1 0 6.5 0a3.25 3.25 0 1 0 -6.5 0ZM77.35 650.60a3.25 3.25 0 1 0 6.5 0a3.25 3.25 0 1 0 -6.5 0ZM77.35 660.00a3.25 3.25 0 1 0 6.5 0a3.25 3.25 0 1 0 -6.5 0ZM70.15 665.60a3.25 3.25 0 1 0 6.5 0a3.25 3.25 0 1 0 -6.5 0ZM84.35 664.00a3.25 3.25 0 1 0 6.5 0a3.25 3.25 0 1 0 -6.5 0ZM77.35 669.40a3.25 3.25 0 1 0 6.5 0a3.25 3.25 0 1 0 -6.5 0ZM70.15 673.60a3.25 3.25 0 1 0 6.5 0a3.25 3.25 0 1 0 -6.5 0ZM84.35 674.60a3.25 3.25 0 1 0 6.5 0a3.25 3.25 0 1 0 -6.5 0ZM77.35 680.60a3.25 3.25 0 1 0 6.5 0a3.25 3.25 0 1 0 -6.5 0ZM77.35 688.60a3.25 3.25 0 1 0 6.5 0a3.25 3.25 0 1 0 -6.5 0Z" fill="#a6092f"/>
<path d="M107.40 621.60h6.0v6.0h-6.0ZM114.60 620.60h6.0v6.0h-6.0ZM107.40 632.40h6.0v6.0h-6.0ZM100.60 641.00h6.0v6.0h-6.0ZM114.60 643.40h6.0v6.0h-6.0ZM107.40 657.00h6.0v6.0h-6.0ZM107.40 671.60h6.0v6.0h-6.0ZM107.40 678.40h6.0v6.0h-6.0Z" fill="#26467f"/>
<path d="M129.70 616.00L136.30 616.00L133.00 610.00ZM136.70 615.60L143.30 615.60L140.00 609.60ZM143.70 615.60L150.30 615.60L147.00 609.60ZM130.10 656.00L136.70 656.00L133.40 650.00ZM136.70 660.40L143.30 660.40L140.00 654.40ZM136.70 673.60L143.30 673.60L140.00 667.60ZM136.70 682.40L143.30 682.40L140.00 676.40Z" fill="#5aa23c"/>
<text x="185.80" y="544.25" font-size="15.4" font-weight="bold" stroke="#000" stroke-width="0.55" fill="#000">H</text>
<line x1="236.00" y1="561.50" x2="236.00" y2="709.55" stroke="#111" stroke-width="1.5" />
<line x1="232.20" y1="708.85" x2="236.00" y2="708.85" stroke="#111" stroke-width="1.3" />
<text transform="translate(227.60,712.55) scale(1.1,1)" font-size="10.5" text-anchor="end" letter-spacing="0.35" stroke="#111" stroke-width="0.12">0</text>
<line x1="232.20" y1="661.00" x2="236.00" y2="661.00" stroke="#111" stroke-width="1.3" />
<text transform="translate(227.60,664.70) scale(1.1,1)" font-size="10.5" text-anchor="end" letter-spacing="0.35" stroke="#111" stroke-width="0.12">5</text>
<line x1="232.20" y1="613.15" x2="236.00" y2="613.15" stroke="#111" stroke-width="1.3" />
<text transform="translate(227.60,616.85) scale(1.1,1)" font-size="10.5" text-anchor="end" letter-spacing="0.35" stroke="#111" stroke-width="0.12">10</text>
<line x1="232.20" y1="565.30" x2="236.00" y2="565.30" stroke="#111" stroke-width="1.3" />
<text transform="translate(227.60,569.00) scale(1.1,1)" font-size="10.5" text-anchor="end" letter-spacing="0.35" stroke="#111" stroke-width="0.12">15</text>
<line x1="232.00" y1="708.85" x2="336.00" y2="708.85" stroke="#111" stroke-width="1.55" />
<line x1="247.60" y1="708.85" x2="247.60" y2="713.05" stroke="#111" stroke-width="1.3" />
<text transform="translate(251.70,721.55) rotate(-45)" font-size="11.0" text-anchor="end" stroke="#111" stroke-width="0.12">Vehicle</text>
<line x1="273.00" y1="708.85" x2="273.00" y2="713.05" stroke="#111" stroke-width="1.3" />
<text transform="translate(277.10,721.55) rotate(-45)" font-size="11.0" text-anchor="end" stroke="#111" stroke-width="0.12">0.1 mg/kg MnBuOE</text>
<line x1="298.40" y1="708.85" x2="298.40" y2="713.05" stroke="#111" stroke-width="1.3" />
<text transform="translate(302.50,721.55) rotate(-45)" font-size="11.0" text-anchor="end" stroke="#111" stroke-width="0.12">1 mg/kg MnE</text>
<line x1="324.00" y1="708.85" x2="324.00" y2="713.05" stroke="#111" stroke-width="1.3" />
<text transform="translate(328.10,721.55) rotate(-45)" font-size="11.0" text-anchor="end" stroke="#111" stroke-width="0.12">Normal Range</text>
<line x1="310.60" y1="570.00" x2="310.60" y2="707.00" stroke="#111" stroke-width="1.6" stroke-dasharray="1.5 1.5"/>
<rect x="315.8" y="693.9" width="16.2" height="4.6" fill="#c9c9cf"/>
<text transform="translate(206.00,635.90) rotate(-90)" font-size="12.5" text-anchor="middle" textLength="72.5" lengthAdjust="spacingAndGlyphs" word-spacing="1.5" stroke="#111" stroke-width="0.38">Lactate (mmol/L)</text>
<line x1="240.60" y1="545.90" x2="306.20" y2="545.90" stroke="#1a1a1a" stroke-width="1.3" />
<line x1="240.60" y1="541.90" x2="240.60" y2="549.60" stroke="#1a1a1a" stroke-width="1.3" />
<line x1="306.20" y1="541.90" x2="306.20" y2="549.60" stroke="#1a1a1a" stroke-width="1.3" />
<text x="272.90" y="543.70" font-size="9" font-weight="bold" text-anchor="middle" fill="#222">*</text>
<line x1="240.60" y1="562.50" x2="286.20" y2="562.50" stroke="#1a1a1a" stroke-width="1.3" />
<line x1="240.60" y1="558.00" x2="240.60" y2="567.00" stroke="#1a1a1a" stroke-width="1.3" />
<line x1="286.20" y1="558.00" x2="286.20" y2="567.00" stroke="#1a1a1a" stroke-width="1.3" />
<text x="263.00" y="559.70" font-size="9" font-weight="bold" text-anchor="middle" fill="#222">*</text>
<line x1="248.10" y1="611.60" x2="248.10" y2="634.40" stroke="#111" stroke-width="1.4"/>
<line x1="243.70" y1="611.60" x2="252.50" y2="611.60" stroke="#111" stroke-width="1.4"/>
<line x1="243.70" y1="634.40" x2="252.50" y2="634.40" stroke="#111" stroke-width="1.4"/>
<line x1="239.90" y1="622.60" x2="256.30" y2="622.60" stroke="#111" stroke-width="1.6"/>
<line x1="273.50" y1="648.60" x2="273.50" y2="661.00" stroke="#111" stroke-width="1.4"/>
<line x1="269.00" y1="648.60" x2="278.00" y2="648.60" stroke="#111" stroke-width="1.4"/>
<line x1="269.00" y1="661.00" x2="278.00" y2="661.00" stroke="#111" stroke-width="1.4"/>
<line x1="265.20" y1="654.60" x2="281.80" y2="654.60" stroke="#111" stroke-width="1.6"/>
<line x1="298.90" y1="653.00" x2="298.90" y2="667.40" stroke="#111" stroke-width="1.4"/>
<line x1="294.70" y1="653.00" x2="303.10" y2="653.00" stroke="#111" stroke-width="1.4"/>
<line x1="294.70" y1="667.40" x2="303.10" y2="667.40" stroke="#111" stroke-width="1.4"/>
<line x1="290.40" y1="660.00" x2="307.40" y2="660.00" stroke="#111" stroke-width="1.6"/>
<path d="M244.85 572.60a3.25 3.25 0 1 0 6.5 0a3.25 3.25 0 1 0 -6.5 0ZM238.85 578.00a3.25 3.25 0 1 0 6.5 0a3.25 3.25 0 1 0 -6.5 0ZM244.85 579.00a3.25 3.25 0 1 0 6.5 0a3.25 3.25 0 1 0 -6.5 0ZM244.85 606.00a3.25 3.25 0 1 0 6.5 0a3.25 3.25 0 1 0 -6.5 0ZM238.85 636.60a3.25 3.25 0 1 0 6.5 0a3.25 3.25 0 1 0 -6.5 0ZM244.85 636.60a3.25 3.25 0 1 0 6.5 0a3.25 3.25 0 1 0 -6.5 0ZM239.65 646.00a3.25 3.25 0 1 0 6.5 0a3.25 3.25 0 1 0 -6.5 0ZM250.85 652.60a3.25 3.25 0 1 0 6.5 0a3.25 3.25 0 1 0 -6.5 0ZM244.85 657.00a3.25 3.25 0 1 0 6.5 0a3.25 3.25 0 1 0 -6.5 0ZM244.85 662.60a3.25 3.25 0 1 0 6.5 0a3.25 3.25 0 1 0 -6.5 0Z" fill="#a6092f"/>
<path d="M265.50 629.00h6.0v6.0h-6.0ZM271.10 628.00h6.0v6.0h-6.0ZM271.10 643.60h6.0v6.0h-6.0ZM265.50 649.00h6.0v6.0h-6.0ZM271.10 654.00h6.0v6.0h-6.0ZM271.10 662.00h6.0v6.0h-6.0ZM265.90 677.00h6.0v6.0h-6.0ZM276.50 674.40h6.0v6.0h-6.0Z" fill="#26467f"/>
<path d="M295.60 639.60L302.20 639.60L298.90 633.60ZM290.20 649.60L296.80 649.60L293.50 643.60ZM301.60 653.00L308.20 653.00L304.90 647.00ZM295.60 658.40L302.20 658.40L298.90 652.40ZM295.60 675.00L302.20 675.00L298.90 669.00ZM301.60 682.00L308.20 682.00L304.90 676.00ZM290.20 686.40L296.80 686.40L293.50 680.40Z" fill="#5aa23c"/>
<rect x="0" y="0" width="520" height="1.8" fill="#000"/>
<rect x="0" y="0" width="1.6" height="800" fill="#000"/>
<rect x="518.1" y="0" width="1.9" height="800" fill="#000"/>
<rect x="0" y="797.8" width="520" height="2.2" fill="#000"/>
</svg>
</body></html>
